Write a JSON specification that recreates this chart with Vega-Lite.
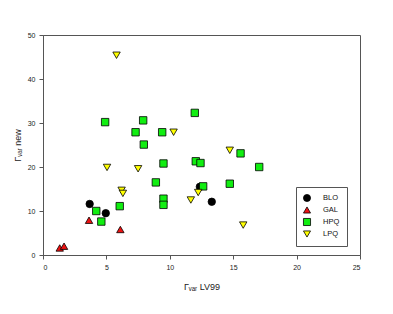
{
  "$schema": "https://vega.github.io/schema/vega-lite/v6.json",
  "width": 317,
  "height": 220,
  "autosize": {"type": "none"},
  "padding": {"left": 43, "top": 35, "right": 33, "bottom": 59},
  "background": "white",
  "config": {
    "font": "Liberation Sans",
    "view": {"stroke": "#555555", "strokeWidth": 1},
    "axis": {
      "grid": false,
      "domainColor": "#555555",
      "tickColor": "#555555",
      "tickSize": 4,
      "labelFontSize": 7,
      "labelColor": "#222222",
      "titleFontSize": 9,
      "titleFontWeight": "normal",
      "titleColor": "#222222"
    }
  },
  "data": {
    "values": [
      {"x": 3.68, "y": 11.6, "g": "BLO"},
      {"x": 4.95, "y": 9.5, "g": "BLO"},
      {"x": 12.37, "y": 15.5, "g": "BLO"},
      {"x": 13.31, "y": 12.1, "g": "BLO"},
      {"x": 1.32, "y": 1.6, "g": "GAL"},
      {"x": 1.66, "y": 2.0, "g": "GAL"},
      {"x": 3.63, "y": 7.9, "g": "GAL"},
      {"x": 6.1, "y": 5.8, "g": "GAL"},
      {"x": 4.9, "y": 30.2, "g": "HPQ"},
      {"x": 7.9, "y": 30.6, "g": "HPQ"},
      {"x": 7.3, "y": 27.9, "g": "HPQ"},
      {"x": 7.95, "y": 25.1, "g": "HPQ"},
      {"x": 9.4, "y": 27.9, "g": "HPQ"},
      {"x": 9.5, "y": 20.8, "g": "HPQ"},
      {"x": 8.9, "y": 16.5, "g": "HPQ"},
      {"x": 9.5, "y": 12.8, "g": "HPQ"},
      {"x": 9.5, "y": 11.4, "g": "HPQ"},
      {"x": 6.05, "y": 11.1, "g": "HPQ"},
      {"x": 4.2, "y": 10.0, "g": "HPQ"},
      {"x": 4.6, "y": 7.6, "g": "HPQ"},
      {"x": 11.97, "y": 32.3, "g": "HPQ"},
      {"x": 12.05, "y": 21.3, "g": "HPQ"},
      {"x": 12.42, "y": 20.9, "g": "HPQ"},
      {"x": 12.63, "y": 15.6, "g": "HPQ"},
      {"x": 14.73, "y": 16.2, "g": "HPQ"},
      {"x": 15.58, "y": 23.1, "g": "HPQ"},
      {"x": 17.05, "y": 20.0, "g": "HPQ"},
      {"x": 5.8, "y": 45.4, "g": "LPQ"},
      {"x": 5.05, "y": 19.9, "g": "LPQ"},
      {"x": 7.5, "y": 19.6, "g": "LPQ"},
      {"x": 6.2, "y": 14.7, "g": "LPQ"},
      {"x": 6.3, "y": 14.0, "g": "LPQ"},
      {"x": 10.3, "y": 27.9, "g": "LPQ"},
      {"x": 11.66, "y": 12.5, "g": "LPQ"},
      {"x": 12.24, "y": 14.2, "g": "LPQ"},
      {"x": 14.73, "y": 23.8, "g": "LPQ"},
      {"x": 15.79, "y": 6.8, "g": "LPQ"}
    ]
  },
  "mark": {"type": "point", "filled": true, "stroke": "black", "strokeWidth": 0.8, "opacity": 1, "size": 55},
  "encoding": {
    "x": {
      "field": "x", "type": "quantitative",
      "scale": {"domain": [0, 25], "nice": false, "zero": false},
      "axis": {"values": [0, 5, 10, 15, 20, 25], "title": "Γᵥₐᵣ LV99", "titlePadding": 12, "labelPadding": 4}
    },
    "y": {
      "field": "y", "type": "quantitative",
      "scale": {"domain": [0, 50], "nice": false, "zero": false},
      "axis": {"values": [0, 10, 20, 30, 40, 50], "title": "Γᵥₐᵣ new", "titlePadding": 5, "labelPadding": 4}
    },
    "color": {
      "field": "g", "type": "nominal",
      "scale": {"domain": ["BLO", "GAL", "HPQ", "LPQ"], "range": ["#000000", "#ee1111", "#11ee11", "#ffff00"]},
      "legend": {
        "title": null,
        "orient": "none",
        "legendX": 253,
        "legendY": 152,
        "strokeColor": "#555555",
        "padding": 7,
        "labelFontSize": 7.5,
        "labelColor": "#111111",
        "symbolSize": 50,
        "symbolStrokeColor": "black",
        "symbolStrokeWidth": 0.8,
        "rowPadding": 1,
        "labelOffset": 12
      }
    },
    "shape": {
      "field": "g", "type": "nominal",
      "scale": {"domain": ["BLO", "GAL", "HPQ", "LPQ"], "range": ["circle", "triangle-up", "square", "triangle-down"]}
    }
  }
}
